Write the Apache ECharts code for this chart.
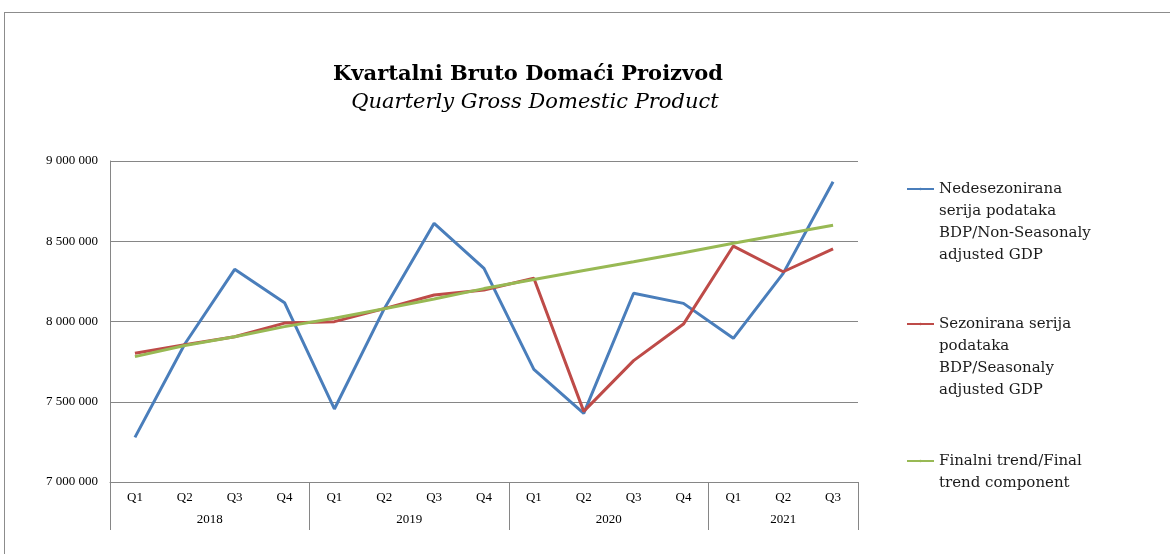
<!DOCTYPE html>
<html><head><meta charset="utf-8">
<script src="https://cdn.jsdelivr.net/npm/echarts@6/dist/echarts.min.js"></script>
<style>
html,body{margin:0;padding:0;background:#fff;}
#wrap{position:relative;width:1170px;height:554px;overflow:hidden;}
#c{position:absolute;left:0;top:0;width:1170px;height:554px;}
#frame{position:absolute;left:4px;top:12px;width:1200px;height:600px;border:1px solid #8c8c8c;pointer-events:none;}
</style>
</head><body>
<div id="wrap"><div id="frame"></div><div id="c"></div></div>
<script>
const years = ['2018', '2019', '2020', '2021'];
const quartersPerYear = [4, 4, 4, 3];
const quarterLabels = ['Q1','Q2','Q3','Q4','Q1','Q2','Q3','Q4','Q1','Q2','Q3','Q4','Q1','Q2','Q3'];
const nonSeasonal = [7278000, 7860000, 8325000, 8117000, 7455000, 8080000, 8612000, 8331000, 7702000, 7428000, 8176000, 8113000, 7895000, 8300000, 8871000];
const seasonal    = [7802000, 7855000, 7905000, 7990000, 7999000, 8080000, 8165000, 8196000, 8269000, 7440000, 7756000, 7984000, 8470000, 8310000, 8452000];
const trend       = [7781000, 7850000, 7905000, 7968000, 8020000, 8080000, 8140000, 8205000, 8262000, 8318000, 8372000, 8428000, 8487000, 8543000, 8600000];
const seriesNames = [
  'Nedesezonirana serija podataka BDP/Non-Seasonaly adjusted GDP',
  'Sezonirana serija podataka BDP/Seasonaly adjusted GDP',
  'Finalni trend/Final trend component'
];
const legendLines = [
  ['Nedesezonirana', 'serija podataka', 'BDP/Non-Seasonaly', 'adjusted GDP'],
  ['Sezonirana serija', 'podataka', 'BDP/Seasonaly', 'adjusted GDP'],
  ['Finalni trend/Final', 'trend component']
];
const titleMain = 'Kvartalni Bruto Domaći Proizvod';
const titleSub = 'Quarterly Gross Domestic Product';

const colors = ['#4A7EBB', '#BE4B48', '#98B954'];
const categories = quarterLabels.map((q, i) => i + '_' + q);

// year boundaries / centres from quarter counts
const bounds = [0];
quartersPerYear.forEach(n => bounds.push(bounds[bounds.length - 1] + n));
const centers = quartersPerYear.map((n, i) => bounds[i] + n / 2);
const total = bounds[bounds.length - 1];

const fmtNum = v => String(v).replace(/\B(?=(\d{3})+(?!\d))/g, ' ');
const LH = 22;
const legendTops = [112, 247, 428];
const legends = seriesNames.map((name, i) => {
  const lines = legendLines[i];
  const pad = '\n'.repeat(lines.length - 1);
  return {
    data: [name], orient: 'vertical', left: 906, top: legendTops[i], padding: 0,
    itemWidth: 27, itemHeight: 3, itemGap: 0, selectedMode: false,
    formatter: () => pad + lines.join('\n'),
    textStyle: { fontFamily: 'DejaVu Serif', fontSize: 15, color: '#1a1a1a', lineHeight: LH }
  };
});

const chart = echarts.init(document.getElementById('c'), null, { renderer: 'canvas' });
chart.setOption({
  animation: false,
  backgroundColor: 'transparent',
  title: [
    { text: titleMain, left: 523, textAlign: 'center', top: 59,
      textStyle: { fontFamily: 'DejaVu Serif', fontWeight: 'bold', fontSize: 21, color: '#000' } },
    { text: titleSub, left: 530, textAlign: 'center', top: 87,
      textStyle: { fontFamily: 'DejaVu Serif', fontStyle: 'italic', fontWeight: 'normal', fontSize: 21, color: '#000' } }
  ],
  legend: legends,
  grid: { left: 110, right: 312, top: 161, bottom: 72, containLabel: false },
  xAxis: [
    { type: 'category', data: categories, boundaryGap: true, position: 'bottom',
      axisLine: { show: true, lineStyle: { color: '#868686', width: 1 } },
      axisTick: { show: false },
      axisLabel: { margin: 9, color: '#000', fontFamily: 'Liberation Serif', fontSize: 13,
        formatter: (v, i) => quarterLabels[i] },
      splitLine: { show: false } },
    { type: 'value', min: 0, max: total, position: 'bottom',
      axisLine: { show: false },
      axisTick: { show: true, customValues: bounds, length: 48, inside: false,
        lineStyle: { color: '#868686', width: 1 } },
      axisLabel: { customValues: centers, margin: 31, color: '#000', fontFamily: 'Liberation Serif', fontSize: 13,
        formatter: v => years[centers.indexOf(v)] },
      splitLine: { show: false } }
  ],
  yAxis: {
    type: 'value', min: 7000000, max: 9000000, interval: 500000,
    axisLine: { show: true, lineStyle: { color: '#868686', width: 1 } },
    axisTick: { show: false },
    axisLabel: { margin: 12, color: '#000', fontFamily: 'Liberation Serif', fontSize: 13, formatter: fmtNum },
    splitLine: { show: true, lineStyle: { color: '#868686', width: 1 } }
  },
  series: [nonSeasonal, seasonal, trend].map((d, i) => ({
    name: seriesNames[i], type: 'line', data: d, xAxisIndex: 0,
    symbol: 'none', showSymbol: false, smooth: false,
    lineStyle: { color: colors[i], width: 3 }, itemStyle: { color: colors[i] },
    z: 2 + i
  }))
});
</script>
</body></html>
